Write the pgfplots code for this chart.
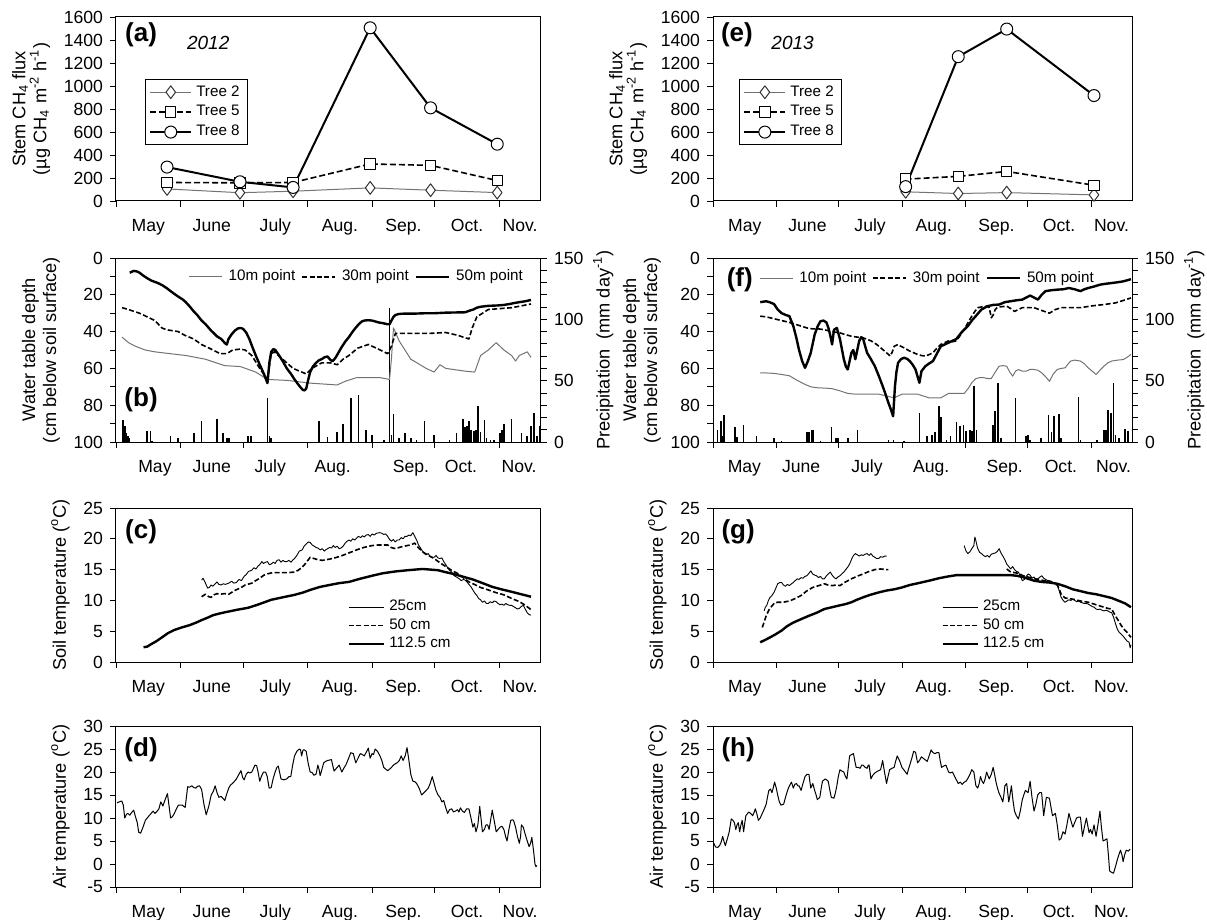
\documentclass[border=0pt]{standalone}
\usepackage{fontspec}
\setmainfont{Liberation Sans}
\usepackage{pgfplots}
\pgfplotsset{compat=1.18}
\pgfplotsset{
  panel/.style={
    scale only axis, anchor=south west,
    xmin=0, xmax=204,
    xtick={15.5,46,76.5,107.5,138,168.5,194},
    xticklabels={May,June,July,Aug.,Sep.,Oct.,Nov.},
    minor xtick={0,31,61,92,123,153,184},
    major x tick style={draw=none},
    xtick pos=left, ytick pos=left,
    tick align=outside,
    major tick length=3pt, minor tick length=3pt,
    tick style={black, line width=0.4pt},
    axis line style={line width=0.5pt},
    font=\fontsize{8.8}{10}\selectfont,
    xticklabel style={text height=8.6pt, text depth=2pt},
    label style={font=\fontsize{9.1}{10.5}\selectfont},
    ylabel style={align=center},
    /pgf/number format/assume math mode=true,
    /pgf/number format/1000 sep={},
    clip=true,
    every axis plot/.append style={line join=round},
  },
  precip/.style={
    scale only axis, anchor=south west,
    xmin=0, xmax=204, ymin=0, ymax=150,
    axis y line*=right, axis x line=none,
    ytick={0,50,100,150}, minor y tick num=4,
    tick align=outside,
    major tick length=3pt, minor tick length=3pt,
    tick style={black, line width=0.4pt},
    axis line style={line width=0.5pt},
    font=\fontsize{8.8}{10}\selectfont,
    label style={font=\fontsize{9.1}{10.5}\selectfont},
    /pgf/number format/assume math mode=true,
    clip=true,
  },
  col1/.style={width=212.5pt},
  col2/.style={width=209.5pt},
  tree2/.style={color=black!55, line width=0.5pt, mark=diamond*, mark size=3.2pt, mark options={draw=black!80, fill=white, line width=0.5pt}},
  tree5/.style={black, line width=0.8pt, dash pattern=on 3pt off 1.5pt, mark=square*, mark size=2.6pt, mark options={solid, fill=white, line width=0.5pt}},
  tree8/.style={black, line width=1pt, mark=*, mark size=3pt, mark options={fill=white, line width=0.5pt}},
  w10/.style={black!55, line width=0.5pt},
  w30/.style={black, line width=0.8pt, dash pattern=on 2.5pt off 1.2pt},
  w50/.style={black, line width=1.2pt},
  s25/.style={black, line width=0.45pt},
  s50/.style={black, line width=0.8pt, dash pattern=on 2.5pt off 1.2pt},
  s112/.style={black, line width=1.2pt},
  bars/.style={ycomb, black, line width=0.8pt, mark=none},
  treelegend/.style={legend style={draw=black, line width=0.4pt, fill=white, font=\fontsize{7.6}{8.5}\selectfont, inner xsep=2pt, inner ysep=1pt, row sep=-0.8pt, cells={anchor=west}},
    legend image code/.code={\draw[mark repeat=2,mark phase=2] plot coordinates {(0cm,0cm) (0.36cm,0cm) (0.72cm,0cm)};}},
  wlegend/.style={legend columns=3, legend style={draw=none, fill=none, font=\fontsize{7.6}{8.5}\selectfont, inner sep=0pt, column sep=1pt},
    legend image code/.code={\draw (0cm,0cm) -- (0.58cm,0cm);}},
  slegend/.style={legend style={draw=none, fill=none, font=\fontsize{7.6}{8.5}\selectfont, inner sep=0pt, row sep=-1.6pt, cells={anchor=west}},
    legend image code/.code={\draw (0cm,0cm) -- (0.62cm,0cm);}},
}
\newcommand{\plab}[1]{\fontsize{13}{14}\selectfont\bfseries #1}
\begin{document}
\begin{tikzpicture}
\path[use as bounding box] (0pt,0pt) rectangle (603.5pt,-460pt);

% ---------------- (a) ----------------
\begin{axis}[panel, col1, at={(58pt,-100.5pt)}, height=92pt,
  ymin=0, ymax=1600, ytick={0,200,...,1600},
  ylabel={Stem CH\textsubscript{4} flux\\(µg CH\textsubscript{4} m\textsuperscript{-2} h\textsuperscript{-1})},
  treelegend, legend style={at={(0.068,0.663)}, anchor=north west}]
\addplot[tree2] coordinates {(24.5,105) (59.5,72) (85,85) (122,114) (151,94) (183,73)};
\addlegendentry{Tree 2}
\addplot[tree5] coordinates {(24.5,161) (59.5,158) (85,161) (122,322) (151,310) (183,178)};
\addlegendentry{Tree 5}
\addplot[tree8] coordinates {(24.5,295) (59.5,167) (85,118) (122,1506) (151,810) (183,494)};
\addlegendentry{Tree 8}
\node[font=\plab{}] at (rel axis cs:0.059,0.905) {(a)};
\node[font=\fontsize{9.5}{11}\selectfont\itshape] at (rel axis cs:0.217,0.86) {2012};
\end{axis}

% ---------------- (e) ----------------
\begin{axis}[panel, col2, at={(356.5pt,-100.5pt)}, height=92pt,
  ymin=0, ymax=1600, ytick={0,200,...,1600},
  ylabel={Stem CH\textsubscript{4} flux\\(µg CH\textsubscript{4} m\textsuperscript{-2} h\textsuperscript{-1})},
  treelegend, legend style={at={(0.062,0.663)}, anchor=north west}]
\addplot[tree2] coordinates {(93.8,80) (119.4,65) (143,73) (185.5,53)};
\addlegendentry{Tree 2}
\addplot[tree5] coordinates {(93.8,190) (119.4,214) (143,257) (185.5,137)};
\addlegendentry{Tree 5}
\addplot[tree8] coordinates {(93.8,125) (119.4,1255) (143,1495) (185.5,917)};
\addlegendentry{Tree 8}
\node[font=\plab{}] at (rel axis cs:0.057,0.905) {(e)};
\node[font=\fontsize{9.5}{11}\selectfont\itshape] at (rel axis cs:0.19,0.86) {2013};
\end{axis}

% ---------------- (b) ----------------
\begin{axis}[precip, col1, at={(58pt,-221pt)}, height=92pt,
  ylabel={Precipitation~~(mm day\textsuperscript{-1})}, ylabel style={yshift=2pt}]
\addplot[bars] coordinates {(3.5,18)(4.2,13)(5.0,7)(5.7,5)(6.5,3)(15,9)(16.5,9)(17.2,1)(26.2,5)(29.9,3)(37.3,7)(41.1,17)(48.5,19)(51.3,7)(53.2,3)(54.1,3)(63.4,5)(64.9,5)(72.7,36)(73.6,5)(74.5,3)(97.3,17)(101.5,4)(106.2,8)(109,15)(112.7,36)(116.4,38)(120.1,10)(122.9,6)(128.5,2)(131.3,109)(132.2,6)(133.2,23)(135.9,3)(138.7,7)(141.5,3)(144.3,2)(148,17)(152.7,6)(160.1,2)(163.5,7)(166.6,19)(167.6,12)(168.5,13)(169.4,17)(170.4,10)(171.7,9)(172.8,10)(173.7,29)(175,8)(176.9,18)(177.8,3)(179.7,2)(181.5,2)(184.3,7)(185.3,10)(186.2,15)(189.9,19)(194.6,7)(197.4,5)(199.2,13)(200.7,24)(202,5)(203.3,13)};
\end{axis}
\begin{axis}[panel, col1, at={(58pt,-221pt)}, height=92pt,
  xtick={18.7,46,74,104,141.6,165.6,193.5},
  ymin=0, ymax=100, y dir=reverse, ytick={0,20,...,100}, minor y tick num=1,
  ylabel={Water table depth\\(cm below soil surface)},
  wlegend, legend style={at={(0.17,0.897)}, anchor=west}]
\addplot[w10] coordinates {(2.9,43)(6,46)(9.4,48)(14,50)(18.7,51)(26,52)(33.6,53)(42.9,55)(52.2,58.5)(59.7,59)(67.1,62)(72.7,66)(82,66.5)(93.2,68)(106.2,69)(110,67)(115.5,65)(126.7,65)(131.3,66)(132.2,55)(133.2,38)(135.9,45)(141.5,55)(148.9,60)(152.7,62)(155.5,58)(158.3,60)(167.6,61.5)(172.2,62)(175,53)(178.7,50)(182.5,46)(186.2,50)(189.9,53)(191.8,56)(193.6,53)(197.4,51)(199.2,54)};
\addlegendentry{10m point}
\addplot[w30] coordinates {(2.9,27)(6,28)(11.3,30)(15,32)(18.7,34)(22,38)(24.3,39)(29.9,40)(33,42)(37.3,44)(41,47)(44.8,49)(50,52)(53.2,52)(56,50)(59.7,49.5)(62,50)(65.2,53)(69,60)(72.7,66)(74.5,52)(76,51)(80,55)(85,60)(91.3,63)(94,60)(98.7,57)(103,57)(106.2,58)(109,55)(111.8,53)(116,49)(121.1,47)(125,49)(130.4,52)(132.2,48)(134.1,41)(140,41)(150,41)(158.3,40.5)(164,42)(169.4,44)(171,38)(173.2,32)(178.7,28)(190,27)(199.2,25)};
\addlegendentry{30m point}
\addplot[w50] coordinates {(6.6,8)(8.5,7)(10,7.3)(11.3,8)(13,9.5)(15,11)(17,12.3)(18.7,13)(20.5,13.8)(22.5,15)(24.5,16.5)(26.2,18)(28,19.5)(29.9,21)(32,22.5)(33.5,24)(35.5,26.5)(37.3,29)(39,31)(41.1,34)(43,36)(45.7,39.5)(48.5,42.6)(50.5,44)(52.5,46.5)(53.2,47)(54,44)(55.5,41.5)(57,39.5)(58.5,38.3)(59.7,38)(61,38.5)(62.5,40.5)(64,44)(65.5,48.5)(67.1,53)(69,58)(71,63)(72.7,68)(73.2,62)(73.6,57)(74.5,51)(75.5,49.5)(76.5,50)(78.3,53)(80,56)(82,60)(84,63)(85.7,66)(88,69.5)(89.5,71.5)(90.5,72)(91.3,71)(92.3,66)(93.2,62)(94.5,59)(96,57)(97.5,55.5)(98.7,55)(100,54)(101.5,53.5)(103,55.5)(104,56)(105.2,54.5)(106.5,52)(108,49)(110,45.5)(111.8,43)(113.6,40)(115,38)(116.5,36)(118,34.5)(119.2,34)(121,33.8)(122.9,34)(124.5,34.5)(126,35)(128.5,35.5)(130.3,36)(131.3,36)(132.2,34)(133.2,32)(134.1,31)(135.5,30.5)(137,30.3)(139.7,30.2)(144,30.2)(148.9,30)(153,30)(158.3,29.7)(163,29.6)(167.6,29.5)(170,28.5)(171.5,28)(173.2,27)(175,26.5)(178.7,26)(183,25.8)(186.2,25.5)(189,25)(191,24.5)(193.6,24)(196.5,23.5)(199.2,22.8)};
\addlegendentry{50m point}
\node[font=\plab{}] at (rel axis cs:0.059,0.228) {(b)};
\end{axis}

% ---------------- (f) ----------------
\begin{axis}[precip, col2, at={(356.5pt,-221pt)}, height=92pt,
  ylabel={Precipitation~~(mm day\textsuperscript{-1})}, ylabel style={yshift=2pt}]
\addplot[bars] coordinates {(2.25,10)(3.8,17)(4.7,5)(5.5,22)(10.7,12)(11.7,4)(14.9,14)(21.1,5)(29.7,3)(33.4,1)(45.7,8)(46.7,8)(48.2,10)(48.9,10)(52.3,1)(57.6,12)(59.9,3)(60.8,3)(65.6,3)(70.3,10)(85.4,2)(87.9,2)(93,1)(100.5,24)(104.3,5)(106.7,6)(108.1,8)(110,29)(110.9,20)(113.7,2)(115.6,5)(118.5,16)(120.4,13)(121.9,14)(123.2,9)(125.1,10)(126,9)(127,46)(128.3,10)(136.4,14)(137.4,25)(138.7,48)(140.2,3)(147.2,36)(152.5,5)(153.4,6)(154.4,2)(159.7,3)(163.4,22)(164.8,8)(166.1,21)(168.5,23)(169.5,3)(178,37)(178.9,2)(186.9,2)(190.3,10)(191.2,10)(192.2,26)(193.7,24)(195,48)(196,6)(197.8,3)(200.7,11)(202,9)};
\end{axis}
\begin{axis}[panel, col2, at={(356.5pt,-221pt)}, height=92pt,
  xtick={15.3,42.9,75,106.2,142,169.4,195},
  ymin=0, ymax=100, y dir=reverse, ytick={0,20,...,100}, minor y tick num=1,
  ylabel={Water table depth\\(cm below soil surface)}, ylabel style={yshift=-2pt},
  wlegend, legend style={at={(0.11,0.89)}, anchor=west}]
\addplot[w10] coordinates {(23,62.4)(26.3,62.5)(29.7,62.7)(33.4,63.3)(37.2,64)(41,66.5)(44.8,68.7)(47.6,70)(50.4,70.5)(54.2,70.7)(58,71)(61.8,72.2)(65.6,73.6)(69.3,74)(73.1,74)(76.9,74)(80.7,74)(84.5,75)(88.2,76)(90.1,75)(92,74)(95.8,74)(99.6,74)(102.4,75)(105.2,76)(110.9,76)(114.7,73.6)(118.5,73.6)(122.3,73.6)(124.2,71)(126,67.8)(127.9,65.6)(129.8,65)(131.7,65)(133.6,65.5)(135.5,65.5)(137.4,62)(139.3,58.8)(141.1,58.5)(143,58.8)(144.5,62)(145.9,64.2)(147.3,61.5)(148.7,60.6)(150.6,61.5)(152.5,61.5)(154.4,60.5)(156.3,60.6)(158.2,61)(160,62.4)(161.9,64.5)(163.8,67)(165.7,63)(167.6,60.6)(169.5,60)(171.4,59.7)(173.3,57)(174.2,56)(176.1,55.5)(178.9,56)(180.8,57.5)(182.7,59.7)(184.6,61.5)(186.5,63.3)(188.4,61)(190.3,58.8)(192.2,57)(194.1,56)(197,55.5)(199.7,55.2)(201.6,54)(203.5,52.4)};
\addlegendentry{10m point}
\addplot[w30] coordinates {(23,31.6)(26,32)(29.7,33)(33.4,34)(37.2,35)(40,36)(42.9,37)(45.7,38)(48.5,38.5)(51.3,38.5)(54.2,39)(58,40)(61.8,40.7)(64.6,41.7)(67.4,42.5)(70.2,43)(73.1,43.4)(76.9,45)(79.7,47)(82.6,49.7)(84.5,51.5)(86.3,53.3)(87.3,51)(88.2,48)(90.1,47)(91.5,48)(93,48.8)(95.8,50.6)(99.6,52.4)(101.5,53)(103.4,53.3)(105.2,52.5)(107.1,51.5)(109,49)(110.9,47)(112.8,46)(114.7,45)(116.6,45.5)(118.5,45)(120.4,42)(122.3,38.9)(124.2,35)(126,31.6)(127.5,29)(128.9,27)(131.2,26.5)(133.6,26.2)(134.5,27)(135.5,32.5)(136.4,31)(137.4,28)(138.3,27)(140,26.5)(143,26.2)(145,27.5)(146.8,29)(148.7,28)(150.6,27)(153.5,27)(156.3,27)(160,28.5)(163.8,30)(166.7,28)(169.5,27)(174,27)(178.9,27)(184.6,26)(190.3,25.3)(195.9,24.4)(200,23)(203.5,21.7)};
\addlegendentry{30m point}
\addplot[w50] coordinates {(23,24)(25.9,23.5)(27.5,24)(29.7,25)(31.5,28)(33.4,30)(35.5,31)(37.2,31.6)(39.1,37)(40.5,43)(41.9,50)(43.4,56)(44.8,59.7)(46.2,56)(47.6,51.5)(49.5,41.6)(51,37)(52.3,34.4)(53.8,34)(55.2,35)(56.2,38)(57,41.6)(58,47)(58.9,39)(60.3,38)(61.8,44)(63.7,55)(64.7,59)(65.6,60.6)(67.4,51.5)(68.3,50)(69.3,55)(71.2,45)(72.2,43)(73.1,44)(75,51.5)(76.9,55)(78.8,58.8)(80.7,64)(82.6,69.6)(84,74)(85.4,78.7)(86.5,82)(87.7,86)(88.6,69.6)(89.3,62)(90.1,57)(91.5,55)(93,54.2)(94.5,54.8)(95.8,56)(97.2,58)(98.6,60.6)(100.5,67.8)(101.5,61.5)(103.4,58.8)(105,57.5)(107.1,56)(109,52)(110.9,48)(112.8,47)(114.7,46)(116.6,45)(118.5,44)(121.3,40)(124.1,37)(126,34)(127.9,31.6)(130.7,28)(133.6,26.2)(136.4,25.5)(139.3,25.3)(142.1,24)(144.9,23.5)(147.7,23)(150.6,22.6)(152.5,21.5)(154.4,20.4)(156.3,21.5)(158.2,22.6)(160,20)(161.9,18)(164.8,17.5)(167.6,17.2)(170.5,17)(173.3,16.3)(176.1,17)(178.9,18)(180.8,17)(182.7,16.3)(185.5,15.5)(188.4,14.5)(191.2,14)(194.1,13.6)(196.9,13.2)(199.7,12.7)(202,12)(203.5,11.5)};
\addlegendentry{50m point}
\node[font=\plab{}] at (rel axis cs:0.064,0.88) {(f)};
\end{axis}

% ---------------- (c) ----------------
\begin{axis}[panel, col1, at={(58pt,-331pt)}, height=77pt,
  ymin=0, ymax=25, ytick={0,5,...,25},
  ylabel={Soil temperature (\textsuperscript{o}C)},
  slegend, legend style={at={(0.544,0.43)}, anchor=north west}]
\addplot[s25] coordinates {(41.1,13.3)(41.8,13.6)(42.4,13.2)(43.2,12.6)(44.0,12.0)(44.8,12.1)(45.6,12.5)(46.5,12.3)(47.6,12.7)(48.5,13.0)(49.4,12.6)(50.4,12.5)(51.5,12.7)(52.5,12.6)(54.1,12.8)(55.5,13.1)(56.6,12.8)(57.8,12.9)(59.0,13.4)(60.2,13.2)(61.5,13.9)(62.5,14.2)(63.6,14.7)(65.2,14.9)(66.2,15.3)(67.2,15.1)(68.2,15.6)(69.0,15.8)(70.0,16.3)(70.8,16.0)(71.8,16.2)(72.7,16.3)(73.6,15.8)(74.5,15.9)(75.5,16.2)(76.4,16.0)(77.3,16.5)(78.3,16.6)(79.2,16.2)(80.1,16.5)(81.0,16.3)(82.0,16.3)(83.0,16.5)(84.0,16.2)(85.0,16.6)(85.7,16.8)(86.8,17.3)(88.0,18.0)(89.4,18.2)(90.3,18.8)(91.5,19.2)(92.3,19.5)(93.2,19.4)(94.2,19.0)(95.1,18.8)(96.0,18.6)(96.9,18.5)(98.0,18.2)(99.0,18.4)(100.0,18.0)(100.6,18.2)(101.6,18.4)(102.6,18.6)(103.5,18.5)(104.3,18.9)(105.2,18.6)(106.2,18.8)(107.1,18.4)(108.0,18.5)(109.0,18.8)(110.0,19.3)(110.9,19.6)(111.8,19.8)(112.7,19.6)(113.6,20.0)(114.6,19.8)(115.5,20.1)(116.4,20.4)(117.4,20.2)(118.3,20.5)(119.2,20.3)(120.1,20.6)(121.1,20.7)(122.0,20.4)(123.0,20.8)(124.0,20.6)(125.0,20.9)(126.7,21.0)(127.6,20.9)(128.5,20.7)(129.4,20.8)(130.4,20.4)(131.3,19.9)(132.2,19.6)(133.1,19.9)(134.0,19.5)(135.0,19.8)(135.9,19.8)(136.9,20.2)(137.8,20.0)(138.7,20.4)(139.7,20.4)(140.6,20.6)(141.5,20.5)(142.5,21.0)(143.4,20.4)(144.3,19.8)(145.2,19.0)(146.2,18.5)(147.1,18.0)(148.0,17.6)(148.9,17.4)(149.9,17.6)(150.8,17.1)(151.8,17.0)(152.7,17.0)(153.6,17.3)(154.5,16.9)(155.5,16.8)(156.4,16.9)(157.3,16.3)(158.3,15.8)(159.2,15.3)(160.1,14.9)(161.1,14.6)(162.0,14.1)(162.9,13.9)(163.9,13.7)(164.8,13.5)(165.7,13.2)(166.7,13.4)(167.6,13.3)(168.5,13.0)(169.4,12.6)(170.4,12.2)(171.3,11.7)(172.2,11.2)(173.2,10.8)(174.1,10.3)(175.0,10.1)(175.9,9.7)(176.9,9.9)(177.8,9.5)(178.7,9.5)(179.7,9.8)(180.6,9.6)(181.5,9.9)(182.5,9.8)(183.4,9.5)(184.3,9.3)(185.3,9.4)(186.2,9.2)(187.1,9.5)(188.0,9.3)(189.0,9.2)(189.9,9.2)(190.8,9.0)(191.8,8.8)(192.7,8.6)(193.6,8.7)(194.5,9.0)(195.5,9.2)(196.4,8.6)(197.4,8.0)(198.3,7.7)(199.2,7.6)};
\addlegendentry{25cm}
\addplot[s50] coordinates {(41.1,10.6)(42.9,11.0)(44.5,10.6)(45.7,10.5)(47,10.9)(48.5,11.1)(50,11.0)(52,11.1)(54.1,11.0)(56,11.4)(57.5,11.7)(59.7,12.0)(62,12.5)(65.2,12.8)(67,13.2)(69,13.6)(71,14.1)(72.7,14.3)(75,14.5)(78.3,14.5)(82,14.5)(85.7,14.6)(87.5,14.9)(89.4,15.4)(91,16.0)(93.2,17.0)(95,16.8)(96.9,16.6)(99,16.5)(102.5,16.7)(105,16.9)(108,17.2)(111,17.6)(115.5,18.2)(119,18.6)(122.9,18.9)(126,19.0)(130.4,19.0)(132,18.6)(134.1,18.4)(137,18.7)(139.7,18.9)(141.5,19.0)(143.4,19.3)(145,18.6)(147.1,17.9)(150,17.3)(152.7,16.8)(155.5,16.1)(158.3,15.5)(161,14.9)(163.9,14.4)(166.7,13.7)(169.4,13.0)(172,12.6)(175,12.1)(178.7,11.7)(182,11.3)(186.2,10.9)(190,10.3)(193.6,9.8)(196.5,9.2)(199.2,8.5)};
\addlegendentry{50 cm}
\addplot[s112] coordinates {(13.2,2.4)(15,2.5)(16.9,2.9)(19.5,3.4)(22.5,4.1)(25,4.7)(28,5.2)(31.5,5.6)(35.5,6.0)(38.5,6.4)(41.1,6.8)(44,7.2)(46.6,7.6)(50,7.9)(54.1,8.2)(58.5,8.5)(63.4,8.8)(68,9.3)(74.5,10.1)(80,10.5)(85.7,10.9)(90,11.3)(93.2,11.7)(98,12.2)(102.5,12.5)(107,12.8)(111.8,13.0)(117,13.5)(122.9,14.0)(128,14.4)(134.1,14.7)(140,14.9)(147.1,15.1)(151,15.0)(154.6,14.9)(158,14.6)(162,14.3)(166,13.9)(171.3,13.4)(176,12.8)(180.6,12.2)(185,11.8)(189.9,11.4)(194.5,11.0)(199.2,10.6)};
\addlegendentry{112.5 cm}
\node[font=\plab{}] at (rel axis cs:0.059,0.844) {(c)};
\end{axis}

% ---------------- (g) ----------------
\begin{axis}[panel, col2, at={(356.5pt,-331pt)}, height=77pt,
  ymin=0, ymax=25, ytick={0,5,...,25},
  ylabel={Soil temperature (\textsuperscript{o}C)},
  slegend, legend style={at={(0.544,0.43)}, anchor=north west}]
\addplot[s25] coordinates {(24.9,8.3)(25.5,8.9)(26.2,9.2)(27,10.0)(27.8,10.5)(28.7,10.8)(29.7,11.3)(30.6,12.0)(31.5,12.7)(32.5,12.9)(33.4,12.9)(34.3,12.5)(35.3,12.3)(36.2,12.6)(37.2,12.4)(38.2,12.7)(39.1,12.9)(40,13.2)(41,13.5)(41.9,13.4)(42.9,13.7)(43.8,13.6)(44.8,13.9)(45.7,14.0)(46.7,14.4)(47.6,14.8)(48.5,14.3)(49.5,14.1)(50.4,14.0)(51.4,13.7)(52.3,13.9)(53.3,13.5)(54.2,13.5)(55.2,14.0)(56.1,14.3)(57.1,14.6)(58,14.1)(59,13.7)(59.9,13.5)(60.8,13.8)(61.8,14.0)(62.7,14.3)(63.7,14.6)(64.6,15.0)(65.6,15.4)(66.5,15.9)(67.5,16.7)(68.4,17.3)(69.3,17.6)(70.3,17.4)(71.2,17.2)(72.2,17.4)(73.1,17.3)(74.1,17.5)(75,17.6)(76,17.3)(76.9,17.6)(77.8,17.2)(78.8,17.0)(79.7,16.8)(80.7,16.8)(81.6,17.1)(82.6,17.0)(83.5,17.2)(84.5,17.2)};
\addlegendentry{25cm}
\addplot[s50] coordinates {(24,5.6)(25.9,7.5)(27.3,8.5)(28.7,9.1)(30,9.6)(31.5,9.7)(34,9.7)(37.2,9.9)(40,10.3)(42.9,10.8)(45.5,11.5)(48.5,12.1)(51.5,12.4)(54.2,12.7)(56,12.5)(58,12.4)(60,12.5)(61.8,12.4)(64,12.9)(67.4,13.5)(70,13.9)(73.1,14.3)(76,14.7)(78.8,15.0)(81.5,15.1)(84.5,15.0)(85.4,15.0)};
\addlegendentry{50 cm}
\addplot[s112] coordinates {(23,3.2)(25.5,3.6)(27.8,4.0)(30.5,4.5)(33.4,5.1)(36,5.8)(39.1,6.4)(42.5,6.9)(46.7,7.5)(50.5,8.0)(54.2,8.6)(58,8.9)(61.8,9.2)(64.5,9.4)(67.4,9.7)(70,10.1)(73.1,10.5)(76.5,10.9)(80.7,11.3)(84.5,11.6)(88.2,11.8)(92,12.1)(95.8,12.5)(100,12.8)(105.2,13.2)(110,13.6)(114.7,13.9)(118.5,14.1)(122.3,14.1)(128,14.1)(133.6,14.1)(139,14.1)(144.9,14.1)(148,14.0)(150.6,13.8)(153.5,13.5)(156.3,13.2)(160,13.0)(163.8,12.9)(167.6,12.7)(171.4,12.3)(175.2,11.8)(179,11.5)(182.7,11.2)(186.5,11.0)(190.3,10.7)(194,10.4)(197.8,9.9)(200.7,9.5)(203.5,8.9)};
\addlegendentry{112.5 cm}
\addplot[s25, forget plot] coordinates {(122.3,18.9)(123.2,18.0)(124.1,17.6)(125.1,17.9)(126,18.4)(127,18.9)(127.5,20.3)(127.9,19.8)(128.8,18.5)(129.8,17.8)(130.7,17.6)(131.7,17.3)(132.6,17.1)(133.6,17.3)(134.5,17.0)(135.5,17.5)(136.4,17.6)(137.4,17.7)(138.3,17.9)(139.3,18.4)(140.2,17.7)(141.1,17.2)(142.1,16.6)(143,15.9)(144,15.5)(144.9,15.1)(145.9,15.5)(146.8,15.0)(147.8,14.7)(148.7,14.6)(149.7,13.9)(150.6,13.2)(151.6,13.4)(152.5,13.9)(153.5,14.3)(154.4,14.1)(155.4,13.6)(156.3,13.8)(157.3,13.3)(158.2,13.5)(159.2,13.8)(160.1,14.0)(161,13.6)(162,13.4)(163,13.2)(163.8,13.2)(164.8,13.1)(165.7,12.8)(166.7,12.8)(167.6,12.7)(168.6,11.5)(169.5,10.5)(170.5,10.0)(171.4,9.7)(172.3,9.9)(173.3,10.1)(174.2,10.0)(175.2,10.2)(176.1,10.0)(177.1,9.8)(178,9.9)(178.9,9.7)(179.9,9.6)(180.8,9.5)(181.8,9.5)(182.7,9.4)(183.7,9.2)(184.6,9.0)(185.6,8.9)(186.5,8.6)(187.5,8.5)(188.4,8.6)(189.4,8.4)(190.3,8.3)(191.3,8.4)(192.2,8.3)(193.2,8.1)(194.1,8.0)(195,7.3)(195.9,6.3)(196.9,5.3)(197.8,4.8)(198.8,4.5)(199.7,4.2)(200.6,3.8)(201.6,3.4)(202.6,3.2)(203.1,2.3)(203.5,2.8)};
\addplot[s50, forget plot] coordinates {(143,15.1)(145,14.6)(148.7,14.4)(151,14.0)(154.4,13.7)(157,13.5)(160,13.3)(163.8,13.0)(167.6,12.5)(168.6,11.8)(169.5,11.0)(171.4,10.4)(173.3,10.3)(175.2,10.2)(179,9.9)(182.7,9.7)(186.5,9.3)(190.3,8.9)(192.2,8.7)(194.1,8.6)(195.9,7.5)(197.4,6.7)(198.8,5.9)(200.2,5.3)(201.6,4.8)(203.5,4.0)};
\node[font=\plab{}] at (rel axis cs:0.06,0.844) {(g)};
\end{axis}

% ---------------- (d) ----------------
\begin{axis}[panel, col1, at={(58pt,-443.5pt)}, height=80.5pt,
  ymin=-5, ymax=30, ytick={-5,0,...,30},
  ylabel={Air temperature (\textsuperscript{o}C)}]
\addplot[black, line width=0.5pt] coordinates {(0.5,13.3)(1.5,13.5)(2.8,13.7)(3.5,12.8)(4.2,10.0)(5.0,10.8)(5.7,11.0)(6.6,10.6)(7.5,11.2)(8.5,11.7)(9.4,10.2)(10.2,9.0)(10.9,6.9)(11.8,6.7)(12.8,7.8)(14.1,9.5)(15.9,10.5)(17.8,11.5)(18.7,11.0)(19.6,11.4)(20.6,12.0)(21.5,13.5)(22.5,12.6)(23.6,14.0)(24.7,15.3)(25.5,12.5)(26.2,10.0)(27.1,10.3)(28.0,11.0)(29.0,12.0)(29.9,12.8)(31.8,12.8)(33.2,12.3)(34.4,16.8)(35.3,16.7)(36.4,17.0)(37.4,16.6)(38.3,16.5)(39.2,16.9)(40.1,17.0)(41.1,16.2)(42.2,13.0)(43.3,10.7)(44.5,12.5)(45.7,15.0)(46.7,15.8)(47.6,17.0)(48.5,15.5)(49.4,14.5)(50.4,14.7)(51.3,14.3)(52.2,13.8)(53.2,15.3)(54.1,16.5)(55.0,17.2)(55.9,17.5)(56.9,18.0)(57.8,18.5)(59.0,19.5)(60.0,20.3)(60.8,18.8)(61.5,18.3)(62.5,19.5)(63.4,20.0)(64.3,19.8)(65.2,20.0)(66.0,20.8)(66.7,21.5)(67.5,21.4)(68.2,20.0)(69.0,18.0)(69.9,19.2)(70.8,20.0)(71.8,20.0)(72.6,19.0)(73.5,16.5)(74.5,16.6)(75.4,18.5)(76.4,20.0)(77.2,21.0)(77.9,21.3)(78.6,19.8)(79.2,18.5)(80.5,18.3)(82.0,18.5)(83.0,19.0)(83.9,19.0)(84.8,21.5)(85.7,23.5)(86.8,24.5)(88.0,25.0)(88.6,24.8)(89.1,23.5)(89.8,24.8)(90.4,24.8)(91.3,24.5)(92.2,22.0)(93.2,20.0)(94.1,19.9)(95.0,19.3)(96.0,19.5)(96.9,21.5)(97.5,20.5)(98.0,19.2)(98.8,20.5)(99.7,22.0)(100.6,22.3)(101.5,22.5)(102.5,22.6)(103.4,22.7)(104.0,21.5)(104.7,20.2)(105.8,20.8)(107.1,21.5)(108.4,20.0)(109.3,20.8)(110.3,21.5)(111.5,22.8)(112.7,24.2)(113.9,24.0)(115.1,22.0)(116.2,23.0)(117.3,24.0)(118.2,23.8)(119.2,23.5)(120.1,24.3)(121.1,25.2)(122.0,23.0)(122.9,24.0)(123.6,23.8)(124.4,25.0)(125.5,24.5)(126.7,23.5)(127.6,22.5)(128.5,21.0)(129.5,20.6)(130.4,20.3)(131.8,20.8)(133.2,21.5)(134.1,21.8)(135.0,22.0)(136.0,22.5)(136.9,23.5)(137.8,22.5)(138.8,23.5)(139.7,25.3)(140.6,22.5)(141.5,19.5)(142.5,18.0)(143.4,17.9)(144.3,17.5)(145.5,16.5)(146.7,15.0)(147.8,15.5)(148.9,16.0)(149.9,16.5)(150.8,17.5)(151.8,19.0)(152.7,17.5)(153.6,16.0)(154.6,15.0)(155.5,14.5)(156.4,13.5)(157.3,13.8)(158.3,12.2)(159.2,11.0)(160.1,11.8)(161.1,12.0)(162.0,11.3)(162.9,11.5)(163.9,11.8)(164.6,11.3)(165.3,12.2)(166.3,11.5)(167.2,11.2)(168.3,12.0)(169.4,12.0)(170.4,10.0)(171.3,8.0)(172.0,8.8)(172.8,7.0)(173.7,8.5)(174.6,12.5)(175.3,9.5)(175.9,7.0)(176.8,7.5)(177.6,8.5)(178.4,8.5)(179.1,7.5)(179.9,9.8)(180.6,11.7)(181.5,9.5)(182.5,7.0)(183.4,7.5)(184.3,8.0)(185.3,8.2)(186.2,7.5)(187.0,6.0)(187.7,5.0)(188.6,7.5)(189.5,9.5)(190.2,9.6)(190.8,9.5)(191.8,8.0)(192.7,6.0)(193.6,4.5)(194.2,6.0)(194.6,8.5)(195.5,8.0)(196.4,6.5)(197.4,5.0)(198.3,3.8)(199.0,4.5)(199.6,5.8)(200.4,3.0)(201.1,0.0)(201.6,-0.6)(202.0,-0.3)};
\node[font=\plab{}] at (rel axis cs:0.059,0.851) {(d)};
\end{axis}

% ---------------- (h) ----------------
\begin{axis}[panel, col2, at={(356.5pt,-443.5pt)}, height=80.5pt,
  ymin=-5, ymax=30, ytick={-5,0,...,30},
  ylabel={Air temperature (\textsuperscript{o}C)}]
\addplot[black, line width=0.5pt] coordinates {(0.4,4.5)(1.3,3.7)(2.3,3.6)(3.2,4.0)(4.0,4.8)(4.7,6.0)(5.3,5.0)(6.0,4.0)(7.0,5.5)(7.9,7.0)(8.9,9.8)(9.7,9.5)(10.4,9.0)(11.1,7.5)(11.7,8.5)(12.3,9.0)(13.0,7.0)(13.6,8.5)(14.2,9.5)(14.9,7.0)(15.5,9.0)(16.0,10.5)(17.4,11.3)(18.3,11.0)(19.3,10.5)(20.0,11.2)(20.6,12.0)(21.3,11.0)(22.1,9.5)(23.0,10.0)(24.0,11.0)(25.0,12.0)(25.9,13.0)(26.5,14.5)(27.2,16.0)(28.0,16.3)(28.7,15.5)(29.3,16.5)(30.0,17.8)(30.8,16.5)(31.5,15.0)(32.3,13.5)(33.1,12.8)(34.4,13.0)(35.3,14.5)(36.3,16.0)(37.2,17.0)(38.2,17.8)(39.1,16.5)(39.8,17.3)(40.6,17.5)(41.3,17.0)(41.9,17.0)(42.9,16.0)(43.8,17.5)(44.8,19.0)(45.7,19.5)(46.7,19.5)(47.6,16.5)(48.6,17.5)(49.5,16.0)(50.2,15.0)(50.8,14.0)(52.0,14.5)(52.7,16.5)(53.3,18.0)(54.7,18.5)(56.1,18.0)(56.9,16.0)(57.6,14.5)(58.9,14.3)(59.6,15.5)(60.3,17.0)(61.0,19.0)(61.8,20.5)(62.7,20.2)(63.7,20.0)(64.5,19.0)(65.2,18.5)(66.0,21.5)(66.5,23.5)(67.5,23.8)(68.4,24.0)(69.0,22.5)(69.7,21.0)(70.7,21.0)(71.6,20.8)(72.4,21.5)(73.1,21.5)(74.1,21.0)(75.0,20.8)(75.6,21.5)(76.0,21.5)(76.9,18.5)(77.8,19.3)(78.8,19.8)(80.2,20.2)(81.6,20.5)(82.1,21.5)(82.6,22.5)(83.5,20.0)(84.5,17.5)(85.2,19.0)(86.0,20.5)(87.1,20.8)(88.2,21.0)(88.9,22.3)(89.7,23.5)(90.8,22.5)(92.0,21.0)(93.2,20.3)(94.5,19.5)(95.1,20.5)(95.8,21.5)(96.8,23.0)(97.7,24.5)(98.6,24.3)(99.6,22.0)(100.5,22.5)(101.5,23.3)(102.9,22.8)(104.3,22.3)(105.2,23.5)(106.2,24.8)(107.1,24.2)(108.1,24.0)(109.0,24.2)(110.0,24.2)(110.6,22.5)(111.3,21.0)(112.3,21.3)(113.4,21.5)(114.0,20.8)(114.7,20.0)(115.6,19.8)(116.6,20.0)(117.9,18.8)(119.4,17.5)(120.4,17.8)(121.3,17.3)(122.3,17.8)(123.2,18.0)(124.2,18.7)(125.1,19.5)(126.0,20.5)(127.0,20.0)(127.5,18.5)(128.0,17.0)(128.9,16.5)(129.6,17.5)(130.2,19.0)(131.0,18.0)(131.7,17.5)(132.5,18.5)(133.2,20.0)(134.5,18.5)(135.5,19.5)(136.4,21.0)(137.1,19.5)(137.7,18.0)(138.5,16.5)(139.2,15.5)(140.2,14.5)(141.1,13.5)(141.6,15.0)(142.1,17.0)(143.0,17.5)(143.5,15.5)(144.0,13.5)(144.6,15.0)(145.3,17.0)(146.0,14.0)(146.8,11.5)(147.7,10.5)(148.7,9.8)(149.6,11.5)(150.6,14.0)(151.3,15.0)(152.1,16.0)(153.4,15.5)(154.4,18.0)(155.3,14.5)(156.3,11.5)(157.2,13.0)(158.1,15.0)(159.0,15.5)(160.0,15.5)(160.5,13.0)(161.0,10.5)(162.3,14.5)(163.8,14.3)(164.5,12.5)(165.3,10.5)(166.7,11.0)(167.6,8.5)(168.5,5.2)(169.4,5.5)(170.4,7.0)(171.4,6.5)(172.3,8.5)(173.3,11.0)(174.2,9.5)(175.2,8.0)(176.1,9.0)(177.0,10.0)(178.0,10.2)(178.9,10.2)(179.9,6.0)(180.8,8.0)(181.8,10.0)(182.4,8.5)(183.1,6.8)(183.8,7.5)(184.6,6.5)(185.5,8.5)(186.5,6.0)(187.4,8.5)(188.4,11.5)(189.1,8.0)(189.9,5.0)(190.8,5.2)(191.8,5.5)(192.5,2.0)(193.1,-1.5)(194.0,-1.8)(195.0,-2.0)(196.0,-0.5)(196.9,1.0)(197.6,2.0)(198.4,3.0)(199.1,2.0)(199.7,0.5)(200.4,2.0)(201.2,3.0)(202.2,2.8)(203.1,3.2)};
\node[font=\plab{}] at (rel axis cs:0.06,0.85) {(h)};
\end{axis}
\end{tikzpicture}
\end{document}
